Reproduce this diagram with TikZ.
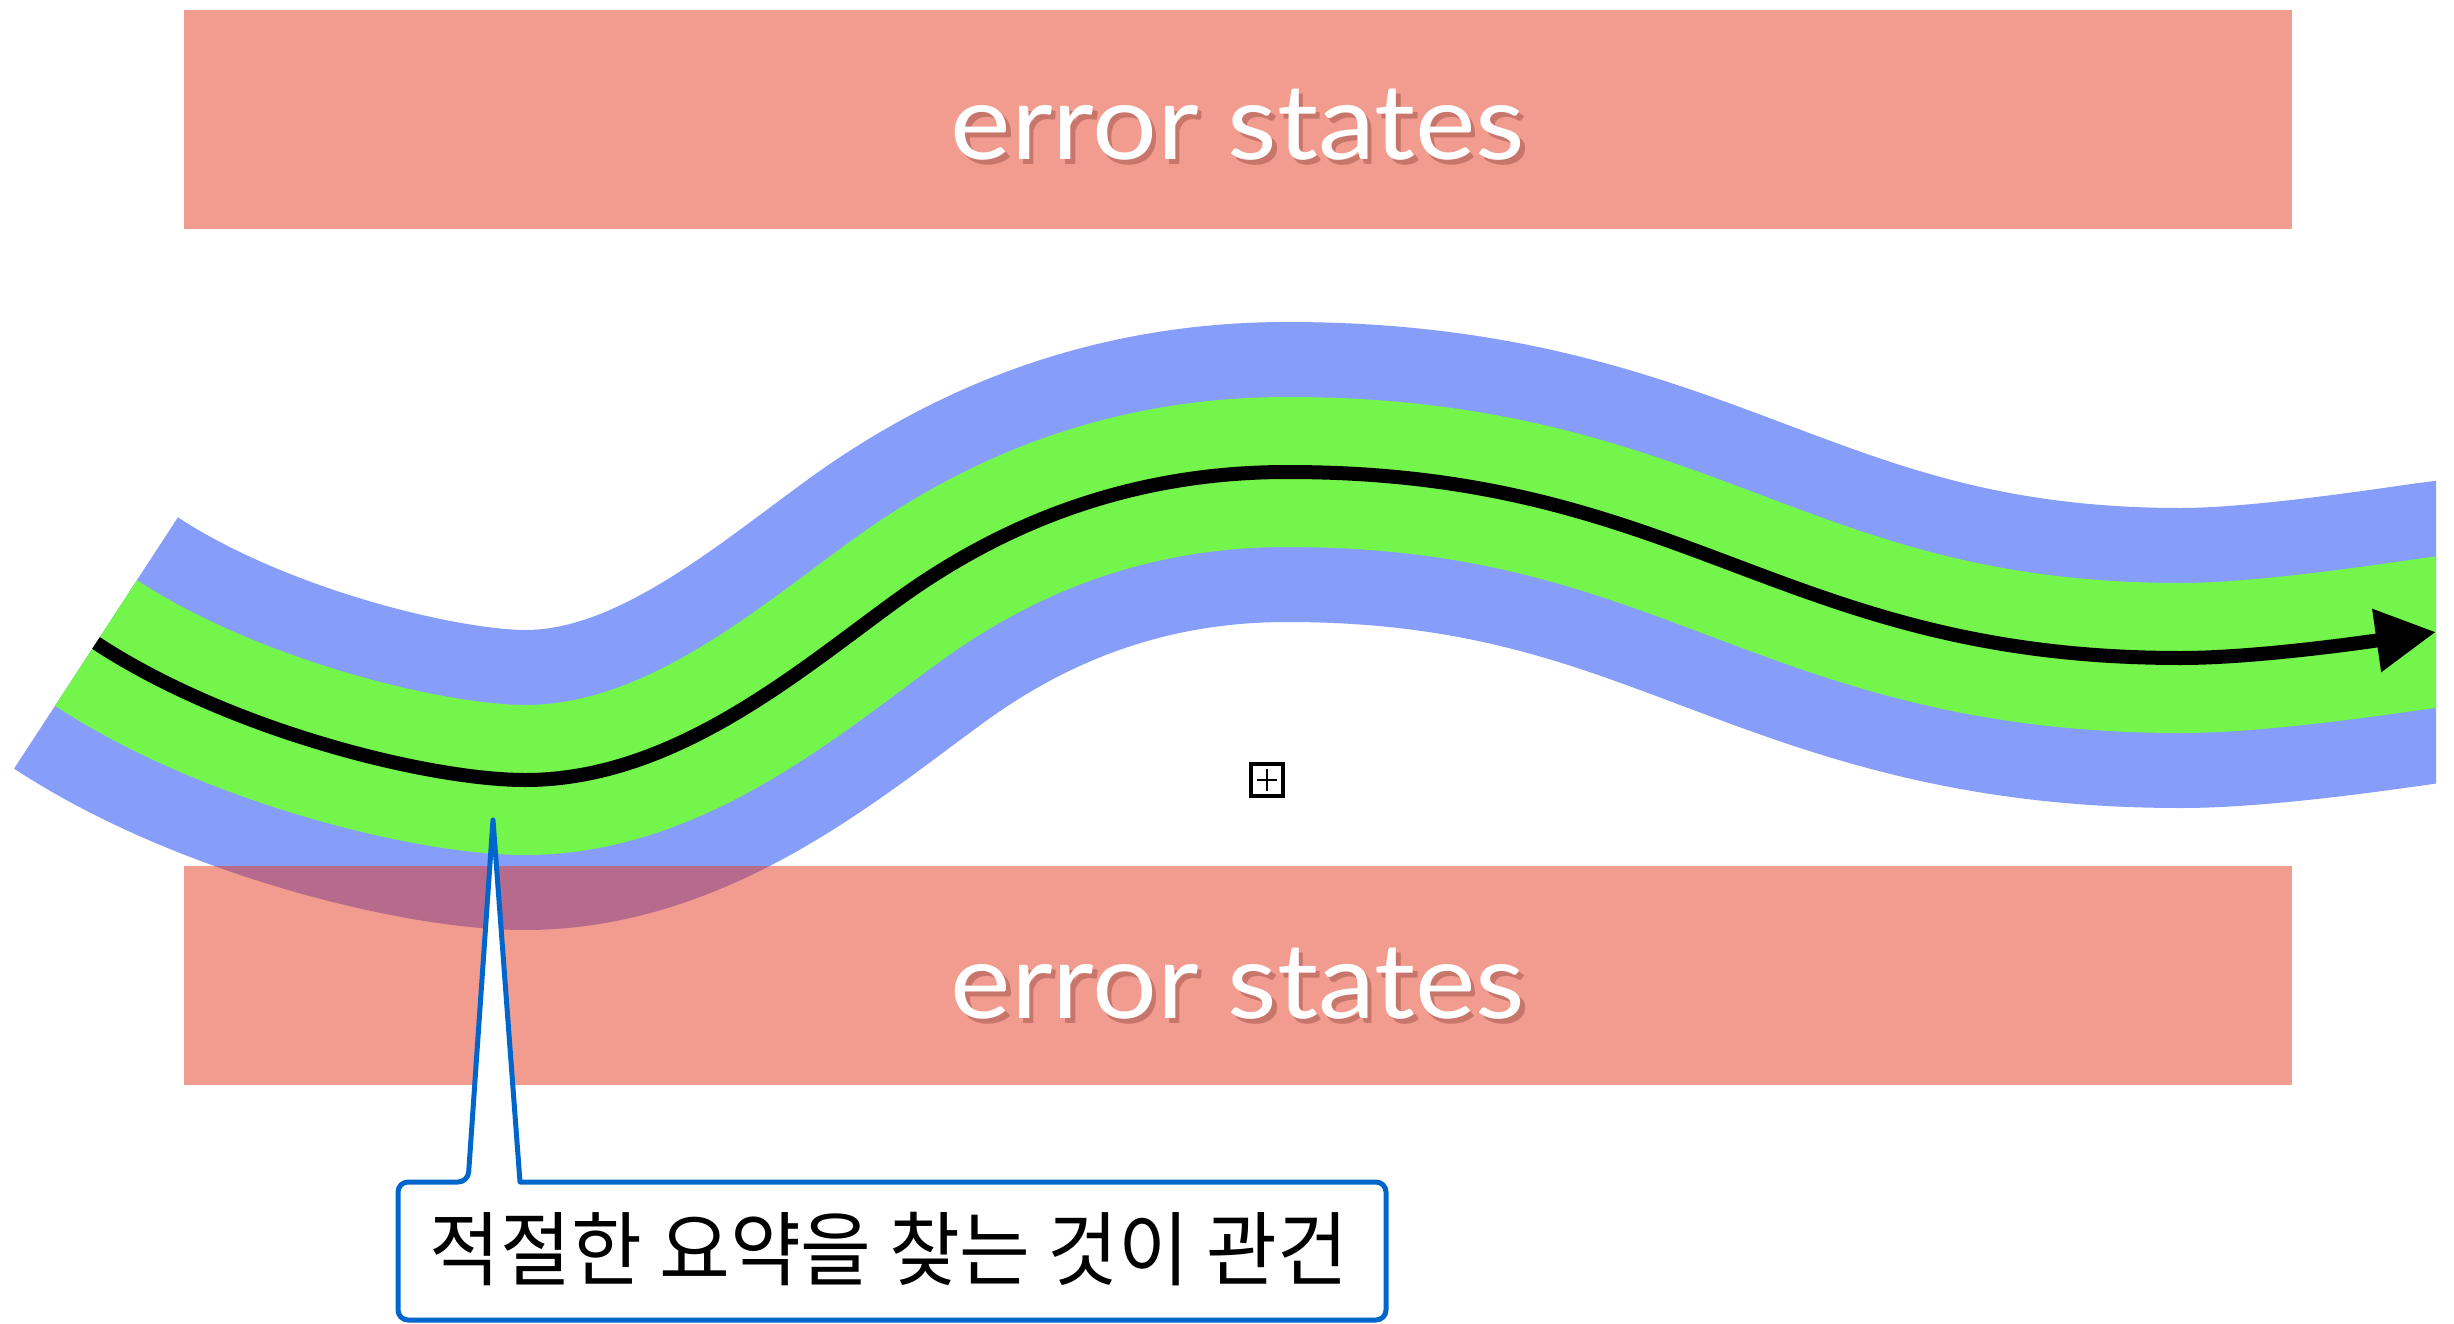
\documentclass[tikz,border=0pt]{standalone}
\usepackage{fontspec}
\setmainfont{Lato}
\newfontfamily\kofont{Noto Sans CJK KR}
\usetikzlibrary{arrows.meta}
\definecolor{bandblue}{RGB}{134,158,250}
\definecolor{bandgreen}{RGB}{116,245,75}
\definecolor{errred}{RGB}{231,58,33}
\definecolor{errshade}{RGB}{200,118,108}
\definecolor{callblue}{RGB}{0,102,204}
\newcommand{\shadowtext}[1]{\rlap{\kern4pt\raisebox{-5pt}{\color{errshade}#1}}#1}
\begin{document}
\begin{tikzpicture}[x=1pt,y=-1pt,
  errbox/.style={fill=errred, fill opacity=0.5, draw=none, minimum width=2108pt, minimum height=219pt, inner sep=0pt},
  errtext/.style={text=white, font=\fontsize{105}{120}\selectfont, anchor=base, inner sep=0pt},
  kotext/.style={text=black, font=\kofont\fontsize{81}{90}\selectfont, inner sep=0pt},
  callout/.style={draw=callblue, line width=5pt, fill=white, line join=round},
  symbox/.style={draw=black, line width=3.2pt},
]
\useasboundingbox (0,0) rectangle (2454,1324);
\fill[white] (0,0) rectangle (2454,1324);
% band
\begin{scope}
\clip (0,0) rectangle (2436,1324);
\draw[bandblue, line width=300pt] (96,643) .. controls (230,731) and (430,780) .. (525,780) .. controls (675,780) and (800,670) .. (900,598) .. controls (1010,519) and (1137,472) .. (1287,472) .. controls (1687,472) and (1781,658) .. (2181,658) .. controls (2260,658) and (2380,640) .. (2436,632) -- ++(80,-10);
\draw[bandgreen, line width=150pt] (96,643) .. controls (230,731) and (430,780) .. (525,780) .. controls (675,780) and (800,670) .. (900,598) .. controls (1010,519) and (1137,472) .. (1287,472) .. controls (1687,472) and (1781,658) .. (2181,658) .. controls (2260,658) and (2380,640) .. (2436,632) -- ++(80,-10);
\end{scope}
\coordinate (pathstart) at (96,643);
\coordinate (pathend) at (2436,632);
\draw[black, line width=14pt, -{Triangle[length=60pt,width=60pt]}] (pathstart) .. controls (230,731) and (430,780) .. (525,780) .. controls (675,780) and (800,670) .. (900,598) .. controls (1010,519) and (1137,472) .. (1287,472) .. controls (1687,472) and (1781,658) .. (2181,658) .. controls (2260,658) and (2380,640) .. (pathend);
% error state boxes
\node[errbox] (errtop) at (1238,119.5) {};
\node[errbox] (errbot) at (1238,975) {};
\node[errtext] (errtoptext) at (1238,160) {\scalebox{1.09}[1]{\shadowtext{error states}}};
\node[errtext] (errbottext) at (1238,1018) {\scalebox{1.09}[1]{\shadowtext{error states}}};
% callout
\draw[callout] (493,820) -- (520,1182) [rounded corners=10pt] -- (1386,1182) -- (1386,1320) -- (398,1320) -- (398,1182) -- (468,1182) [sharp corners] -- cycle;
\node[kotext] (caption) at (889,1249) {\scalebox{0.95}[1]{적절한 요약을 찾는 것이 관건}};
% small boxed plus symbol
\draw[symbox] (1251,764) rectangle (1283,796);
\draw[black, line width=2.7pt] (1257,780) -- (1277,780) (1267,769) -- (1267,791);
\end{tikzpicture}
\end{document}
